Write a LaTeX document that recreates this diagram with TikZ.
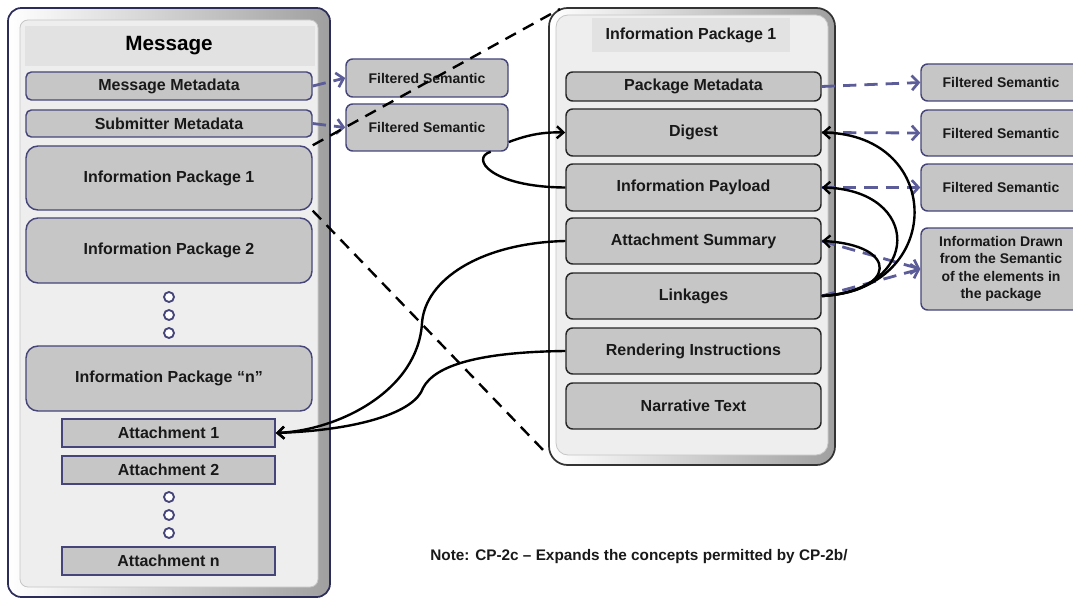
\documentclass[tikz,border=0pt]{standalone}
\usepackage{fontspec}
\setmainfont{Liberation Sans}
\usetikzlibrary{arrows.meta}
\definecolor{navy}{HTML}{45457A}
\definecolor{navyd}{HTML}{2C2C58}
\definecolor{boxfill}{HTML}{C6C6C6}
\definecolor{dashblue}{HTML}{5C5C98}
\definecolor{panel}{HTML}{EEEEEE}
\definecolor{header}{HTML}{E2E2E2}
\begin{document}
\begin{tikzpicture}[x=0.75pt,y=-0.75pt,
  base/.style={inner sep=0pt, font=\bfseries\fontsize{12}{13}\selectfont, text=black!90, fill=boxfill, line width=1.1pt},
  sz/.style 2 args={minimum width=#1*0.75pt, minimum height=#2*0.75pt},
  lbox/.style={base, draw=navy, rounded corners=4pt},
  bigbox/.style={base, draw=navy, rounded corners=9pt},
  abox/.style={base, draw=navy},
  rbox/.style={base, draw=black!85, rounded corners=5pt},
  fsbox/.style={base, draw=navy, rounded corners=5pt, align=center, font=\bfseries\fontsize{10.5}{13}\selectfont},
  dotc/.style={circle, draw=navy, fill=white, line width=1.4pt, minimum size=7.5pt, inner sep=0pt},
  bluearrow/.style={draw=dashblue, line width=2.1pt, dash pattern=on 10pt off 6pt, -{Straight Barb[length=5pt,width=11pt,line width=2pt]}},
  blackarrow/.style={draw=black, line width=1.8pt, -{Straight Barb[length=5pt,width=9pt]}},
  blackline/.style={draw=black, line width=1.8pt},
  blackdash/.style={draw=black, line width=1.8pt, dash pattern=on 9pt off 6pt}
]
\useasboundingbox (0,0) rectangle (1073,599);
% ---------- left container
\draw[rounded corners=10pt, line width=1.3pt, draw=navyd, left color=white, right color=gray!75] (8,8) rectangle (330,597);
\draw[rounded corners=6pt, draw=gray!45, line width=0.6pt, fill=panel] (20,20) rectangle (318,587);
\fill[header] (25,26) rectangle (315,66);
\node[font=\bfseries\fontsize{15.5}{18}\selectfont] (msg) at (169,46) {Message};
\node[lbox, sz={286}{28}] (mm) at (169,86) {Message Metadata};
\node[lbox, sz={286}{27}] (sm) at (169,123.5) {Submitter Metadata};
\node[bigbox, sz={286}{64}] (ip1) at (169,178) {Information Package 1};
\node[bigbox, sz={286}{65}] (ip2) at (169,250.5) {Information Package 2};
\node[dotc] (d1) at (169,297) {};
\node[dotc] (d2) at (169,315) {};
\node[dotc] (d3) at (169,333) {};
\node[bigbox, sz={286}{65}] (ipn) at (169,378.5) {Information Package “n”};
\node[abox, sz={213}{28}] (a1) at (168.5,433) {Attachment 1};
\node[abox, sz={213}{28}] (a2) at (168.5,470) {Attachment 2};
\node[dotc] (d4) at (169,497) {};
\node[dotc] (d5) at (169,515) {};
\node[dotc] (d6) at (169,533) {};
\node[abox, sz={213}{28}] (an) at (168.5,561) {Attachment n};
% ---------- left filtered semantic
\node[fsbox, sz={162}{38}] (fs1) at (427,78) {Filtered Semantic};
\node[fsbox, sz={162}{47}] (fs2) at (427,127.5) {Filtered Semantic};
% ---------- right container
\draw[rounded corners=14pt, line width=1.3pt, draw=black!80, left color=white, right color=gray!75] (549,8) rectangle (835,465);
\draw[rounded corners=9pt, draw=gray!45, line width=0.6pt, fill=panel] (556,15) rectangle (828,455);
\node[base, fill=header, draw=none, sz={198}{34}] (iph) at (691,35) {Information Package 1};
\node[rbox, sz={255}{29}] (pm) at (693.5,86.5) {Package Metadata};
\node[rbox, sz={255}{47}] (dg) at (693.5,132.5) {Digest};
\node[rbox, sz={255}{47}] (pl) at (693.5,187.5) {Information Payload};
\node[rbox, sz={255}{46}] (as) at (693.5,241) {Attachment Summary};
\node[rbox, sz={255}{46}] (lk) at (693.5,296) {Linkages};
\node[rbox, sz={255}{46}] (ri) at (693.5,351) {Rendering Instructions};
\node[rbox, sz={255}{46}] (nt) at (693.5,406) {Narrative Text};
% ---------- right filtered semantic
\node[fsbox, sz={160}{37}] (rf1) at (1001,82.5) {Filtered Semantic};
\node[fsbox, sz={160}{46}] (rf2) at (1001,133) {Filtered Semantic};
\node[fsbox, sz={160}{47}] (rf3) at (1001,187.5) {Filtered Semantic};
\node[fsbox, sz={160}{82}] (rf4) at (1001,269) {Information Drawn\\from the Semantic\\of the elements in\\the package};
% ---------- note
\node[font=\bfseries\fontsize{11.5}{13}\selectfont, text=black!90] (note) at (639,557) {Note: CP-2c – Expands the concepts permitted by CP-2b/};
% ---------- blue dashed arrows
\draw[bluearrow] (mm.east) -- (fs1.west);
\draw[bluearrow] (sm.east) -- (fs2.west);
\draw[bluearrow] (pm.east) -- (rf1.west);
\draw[bluearrow] (dg.east) -- (rf2.west);
\draw[bluearrow] (pl.east) -- (rf3.west);
\draw[bluearrow] (as.east) -- (rf4.west);
\draw[bluearrow] (lk.east) -- (rf4.west);
% ---------- black curves, right side
\draw[blackarrow] (lk.east) .. controls (945,290) and (945,135) .. (dg.east);
\draw[blackarrow] (lk.east) .. controls (922,290) and (922,190) .. (pl.east);
\draw[blackarrow] (lk.east) .. controls (897,292) and (900,245) .. (as.east);
% ---------- black curves, middle
\draw[blackarrow] ([yshift=-10.9pt]fs2.east) .. controls (530,134) and (545,132) .. (dg.west);
\draw[blackline] (pl.west) .. controls (490,187) and (470,158) .. ([xshift=-13.5pt]fs2.south east);
\coordinate (k1) at (422,323);
\coordinate (k2) at (423,388);
\draw[blackarrow] (as.west) .. controls (480,243) and (425,280) .. (k1) .. controls (418,390) and (340,430) .. (a1.east);
\draw[blackarrow] (ri.west) .. controls (480,352) and (435,365) .. (k2) .. controls (415,412) and (360,430) .. (a1.east);
% ---------- black dashed lines
\coordinate (rtop) at (560,9);
\coordinate (rbot) at (546,453);
\draw[blackdash] (ip1.north east) -- (rtop);
\draw[blackdash] (ip1.south east) -- (rbot);
\end{tikzpicture}
\end{document}
